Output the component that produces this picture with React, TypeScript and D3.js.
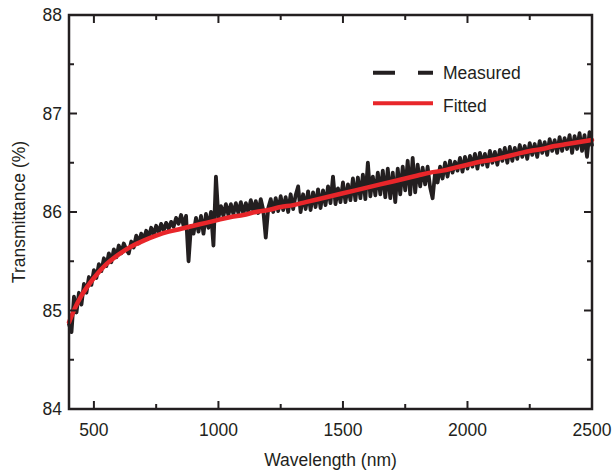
import React from "react";
import * as d3 from "d3";

const measuredStart = 400;
const measuredStep = 10;
const measuredValues: number[] = [
  84.86, 84.78, 85.14, 84.98, 85.18, 85.06, 85.27, 85.18, 85.34, 85.26, 85.41,
  85.33, 85.47, 85.4, 85.53, 85.45, 85.58, 85.49, 85.62, 85.54, 85.66,
  85.58, 85.68, 85.62, 85.58, 85.7, 85.64, 85.76, 85.68, 85.78, 85.72,
  85.81, 85.74, 85.84, 85.77, 85.86, 85.79, 85.88, 85.81, 85.89, 85.83,
  85.9, 85.85, 85.94, 85.88, 85.97, 85.86, 85.96, 85.5, 85.86, 85.78,
  85.94, 85.8, 85.96, 85.78, 85.98, 85.84, 86.0, 85.66, 86.36, 85.94,
  86.06, 85.96, 86.08, 85.97, 86.08, 85.98, 86.09, 85.99, 86.1, 85.98,
  86.09, 86.0, 86.12, 86.01, 86.11, 85.99, 86.13, 86.02, 85.74, 86.04,
  86.13, 86.0, 86.14, 86.01, 86.16, 86.02, 86.15, 86.0, 86.18, 86.03,
  86.17, 86.26, 86.0, 86.18, 86.03, 86.21, 86.02, 86.2, 86.05, 86.23,
  86.04, 86.22, 86.07, 86.26, 86.09, 86.36, 86.08, 86.24, 86.1, 86.3,
  86.1, 86.28, 86.12, 86.34, 86.12, 86.35, 86.14, 86.38, 86.13, 86.5,
  86.16, 86.36, 86.17, 86.4, 86.18, 86.42, 86.15, 86.44, 86.14, 86.4,
  86.1, 86.44, 86.18, 86.46, 86.22, 86.52, 86.18, 86.55, 86.2, 86.48,
  86.26, 86.45, 86.28, 86.46, 86.25, 86.14, 86.4, 86.3, 86.46, 86.34,
  86.5, 86.36, 86.52, 86.4, 86.51, 86.42, 86.55, 86.41, 86.56, 86.44,
  86.57, 86.46, 86.59, 86.44, 86.6, 86.48, 86.59, 86.46, 86.62, 86.5,
  86.61, 86.48, 86.63, 86.52, 86.65, 86.5, 86.66, 86.52, 86.65, 86.54,
  86.68, 86.56, 86.67, 86.54, 86.7, 86.58, 86.69, 86.56, 86.72, 86.6,
  86.71, 86.58, 86.74, 86.62, 86.73, 86.6, 86.76, 86.62, 86.75, 86.64,
  86.78, 86.6, 86.77, 86.64, 86.8, 86.62, 86.78, 86.56, 86.81, 86.68,
];

const fittedWavelengths: number[] = [
  400, 425, 450, 500, 550, 600, 650, 700, 750, 800, 850, 900, 950, 1000,
  1050, 1100, 1150, 1200, 1250, 1300, 1350, 1400, 1450, 1500, 1550, 1600,
  1650, 1700, 1750, 1800, 1850, 1900, 1950, 2000, 2050, 2100, 2150, 2200,
  2250, 2300, 2350, 2400, 2450, 2500,
];
const fittedValues: number[] = [
  84.88, 85.03, 85.15, 85.33, 85.47, 85.57, 85.65, 85.71, 85.76, 85.8,
  85.83, 85.86, 85.89, 85.92, 85.95, 85.97, 86.0, 86.02, 86.05, 86.07,
  86.1, 86.13, 86.16, 86.19, 86.22, 86.25, 86.28, 86.31, 86.34, 86.37,
  86.4, 86.42, 86.45, 86.48, 86.51, 86.53, 86.56, 86.59, 86.62, 86.64,
  86.67, 86.69, 86.71, 86.73,
];

const xMajorTicks: number[] = [500, 1000, 1500, 2000, 2500];
const xMinorTicks: number[] = [750, 1250, 1750, 2250];
const yMajorTicks: number[] = [84, 85, 86, 87, 88];
const yMinorTicks: number[] = [84.5, 85.5, 86.5, 87.5];
const legendLabels: string[] = ["Measured", "Fitted"];

const W = 614;
const H = 471;
const L = 69;
const R = 592;
const T = 15;
const B = 409;
const INK = "#231f20";
const RED = "#e8262a";
const FONT = "'Liberation Sans', Arial, Helvetica, sans-serif";

export default function App() {
  const x = d3.scaleLinear().domain([400, 2500]).range([L, R]);
  const y = d3.scaleLinear().domain([84, 88]).range([B, T]);

  const measured = measuredValues.map((v, i) => [measuredStart + i * measuredStep, v] as [number, number]);
  const fitted = fittedWavelengths.map((w, i) => [w, fittedValues[i]] as [number, number]);

  const measuredLine = d3
    .line<[number, number]>()
    .x((d) => x(d[0]))
    .y((d) => y(d[1]))(measured) as string;
  const fittedLine = d3
    .line<[number, number]>()
    .x((d) => x(d[0]))
    .y((d) => y(d[1]))
    .curve(d3.curveMonotoneX)(fitted) as string;

  const major = 8;
  const minor = 5;

  return (
    <svg
      width={W}
      height={H}
      style={{ position: "absolute", left: 0, top: 0, background: "#fff" }}
      fontFamily={FONT}
    >
      <rect x={0} y={0} width={W} height={H} fill="#fff" />
      <path d={measuredLine} fill="none" stroke={INK} strokeWidth={3.8} strokeLinejoin="round" strokeLinecap="round" />
      <path d={fittedLine} fill="none" stroke={RED} strokeWidth={4.5} strokeLinecap="round" />

      {/* frame */}
      <rect x={L} y={T} width={R - L} height={B - T} fill="none" stroke={INK} strokeWidth={2.5} />

      {/* x ticks */}
      {xMajorTicks.map((t) => (
        <g key={"xm" + t}>
          <line x1={x(t)} x2={x(t)} y1={B} y2={B - major} stroke={INK} strokeWidth={2} />
          <line x1={x(t)} x2={x(t)} y1={T} y2={T + major} stroke={INK} strokeWidth={2} />
          <text x={x(t)} y={436} textAnchor="middle" fontSize={17.5} fill={INK}>
            {t}
          </text>
        </g>
      ))}
      {xMinorTicks.map((t) => (
        <g key={"xn" + t}>
          <line x1={x(t)} x2={x(t)} y1={B} y2={B - minor} stroke={INK} strokeWidth={2} />
          <line x1={x(t)} x2={x(t)} y1={T} y2={T + minor} stroke={INK} strokeWidth={2} />
        </g>
      ))}

      {/* y ticks */}
      {yMajorTicks.map((t) => (
        <g key={"ym" + t}>
          <line x1={L} x2={L + major} y1={y(t)} y2={y(t)} stroke={INK} strokeWidth={2} />
          <line x1={R} x2={R - major} y1={y(t)} y2={y(t)} stroke={INK} strokeWidth={2} />
          <text x={62} y={y(t) + 6.3} textAnchor="end" fontSize={17.5} fill={INK}>
            {t}
          </text>
        </g>
      ))}
      {yMinorTicks.map((t) => (
        <g key={"yn" + t}>
          <line x1={L} x2={L + minor} y1={y(t)} y2={y(t)} stroke={INK} strokeWidth={2} />
          <line x1={R} x2={R - minor} y1={y(t)} y2={y(t)} stroke={INK} strokeWidth={2} />
        </g>
      ))}

      {/* axis titles */}
      <text x={(L + R) / 2} y={466} textAnchor="middle" fontSize={17.5} fill={INK}>
        Wavelength (nm)
      </text>
      <text transform="translate(25,212) rotate(-90)" textAnchor="middle" fontSize={17.5} fill={INK}>
        Transmittance (%)
      </text>

      {/* legend */}
      <line x1={373} x2={433} y1={72.7} y2={72.7} stroke={INK} strokeWidth={4} strokeDasharray="22,23" />
      <text x={443} y={79} fontSize={17.5} fill={INK}>
        {legendLabels[0]}
      </text>
      <line x1={373} x2={433} y1={103.3} y2={103.3} stroke={RED} strokeWidth={4} />
      <text x={443} y={112} fontSize={17.5} fill={INK}>
        {legendLabels[1]}
      </text>
    </svg>
  );
}
